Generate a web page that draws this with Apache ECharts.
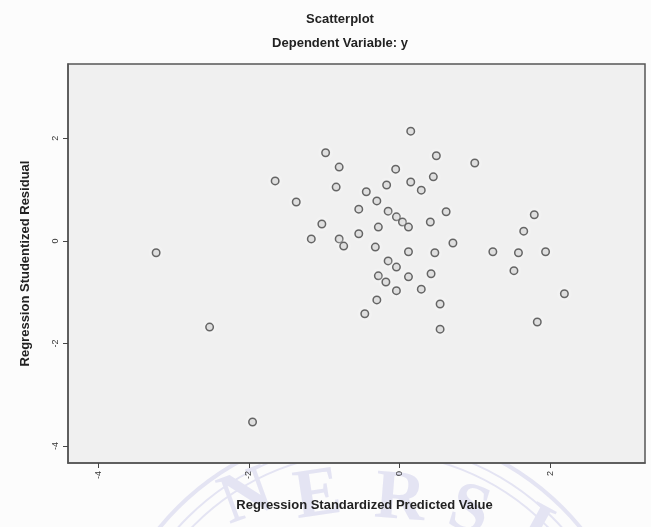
<!DOCTYPE html>
<html>
<head>
<meta charset="utf-8">
<style>
html,body{margin:0;padding:0;background:#fcfcfc;}
#chart{width:651px;height:527px;}
</style>
<script src="https://cdn.jsdelivr.net/npm/echarts@6/dist/echarts.min.js"></script>
</head>
<body>
<div id="chart"></div>
<script>
// Regression standardized predicted values (x) and studentized residuals (y)
const predicted = [-3.23,-2.52,-1.95,-1.65,-1.37,-1.17,-1.03,-0.98,-0.80,-0.84,-0.80,-0.74,-0.54,-0.54,-0.44,-0.30,-0.28,-0.17,-0.15,-0.05,-0.04,0.04,0.12,0.15,0.15,0.29,0.41,0.45,0.49,0.62,0.71,1.00,-0.32,0.12,0.47,-0.15,-0.04,0.12,-0.28,-0.18,0.42,-0.04,0.29,-0.30,0.54,-0.46,0.54,1.24,1.58,1.94,1.65,1.79,1.52,2.19,1.83];
const residual  = [-0.23,-1.68,-3.53,1.17,0.76,0.04,0.33,1.72,1.44,1.05,0.04,-0.10,0.62,0.14,0.96,0.78,0.27,1.09,0.58,1.40,0.47,0.37,0.27,2.14,1.15,0.99,0.37,1.25,1.66,0.57,-0.04,1.52,-0.12,-0.21,-0.23,-0.39,-0.51,-0.70,-0.68,-0.80,-0.64,-0.97,-0.94,-1.15,-1.23,-1.42,-1.72,-0.21,-0.23,-0.21,0.19,0.51,-0.58,-1.03,-1.58];
const xTicks = [-4,-2,0,2];
const yTicks = [-4,-2,0,2];
const titleText = 'Scatterplot';
const subtitleText = 'Dependent Variable: y';
const xAxisTitle = 'Regression Standardized Predicted Value';
const yAxisTitle = 'Regression Studentized Residual';

const points = predicted.map((v,i)=>[v,residual[i]]);
const chart = echarts.init(document.getElementById('chart'));
const wm = '#e4e4f3';
chart.setOption({
  backgroundColor:'#fcfcfc',
  animation:false,
  title:[
    {text:titleText,left:335,top:8,textAlign:'center',textStyle:{fontFamily:'Liberation Sans',fontSize:13,fontWeight:'bold',color:'#222'}},
    {text:subtitleText,left:335,top:32,textAlign:'center',textStyle:{fontFamily:'Liberation Sans',fontSize:13,fontWeight:'bold',color:'#222'}}
  ],
  graphic:[
    {type:'circle',z:-1,silent:true,shape:{cx:370,cy:700,r:272},style:{fill:'none',stroke:wm,lineWidth:4}},
    {type:'circle',z:-1,silent:true,shape:{cx:370,cy:700,r:258},style:{fill:'none',stroke:wm,lineWidth:2}},
    {type:'circle',z:-1,silent:true,shape:{cx:370,cy:700,r:248},style:{fill:'none',stroke:wm,lineWidth:2}},
    {type:'text',z:-1,silent:true,x:235,y:540,rotation:0.35,style:{text:'N',fill:wm,font:'bold 70px Liberation Serif',textVerticalAlign:'bottom'}},
    {type:'text',z:-1,silent:true,x:300,y:535,rotation:0.15,style:{text:'E',fill:wm,font:'bold 70px Liberation Serif',textVerticalAlign:'bottom'}},
    {type:'text',z:-1,silent:true,x:372,y:533,rotation:-0.08,style:{text:'R',fill:wm,font:'bold 70px Liberation Serif',textVerticalAlign:'bottom'}},
    {type:'text',z:-1,silent:true,x:440,y:540,rotation:-0.3,style:{text:'S',fill:wm,font:'bold 70px Liberation Serif',textVerticalAlign:'bottom'}},
    {type:'text',z:-1,silent:true,x:505,y:555,rotation:-0.5,style:{text:'I',fill:wm,font:'bold 70px Liberation Serif',textVerticalAlign:'bottom'}}
  ],
  grid:{left:68,top:64,right:6,bottom:64,show:true,backgroundColor:'#f0f0f0',borderColor:'#555',borderWidth:1.5},
  xAxis:{
    type:'value',min:-4.4,max:3.26,
    name:xAxisTitle,nameLocation:'middle',nameGap:36,
    nameTextStyle:{fontFamily:'Liberation Sans',fontSize:13,fontWeight:'bold',color:'#222',padding:[0,0,0,16]},
    axisLine:{show:true,onZero:false,lineStyle:{color:'#555',width:1.5}},
    axisTick:{show:true,length:5,customValues:xTicks,lineStyle:{color:'#444'}},
    axisLabel:{customValues:xTicks,rotate:90,fontSize:9,color:'#333',fontFamily:'Liberation Sans',margin:8},
    splitLine:{show:false}
  },
  yAxis:{
    type:'value',min:-4.33,max:3.45,
    name:yAxisTitle,nameLocation:'middle',nameGap:36,
    nameTextStyle:{fontFamily:'Liberation Sans',fontSize:13,fontWeight:'bold',color:'#222'},
    axisLine:{show:true,onZero:false,lineStyle:{color:'#555',width:1.5}},
    axisTick:{show:true,length:5,customValues:yTicks,lineStyle:{color:'#444'}},
    axisLabel:{customValues:yTicks,rotate:90,fontSize:9,color:'#333',fontFamily:'Liberation Sans',margin:8},
    splitLine:{show:false}
  },
  series:[{
    type:'scatter',data:points,symbol:'circle',symbolSize:7.5,
    itemStyle:{color:'#d0d0d0',borderColor:'#444',borderWidth:1.5,shadowColor:'rgba(255,255,255,1)',shadowBlur:6}
  }]
});
</script>
</body>
</html>
